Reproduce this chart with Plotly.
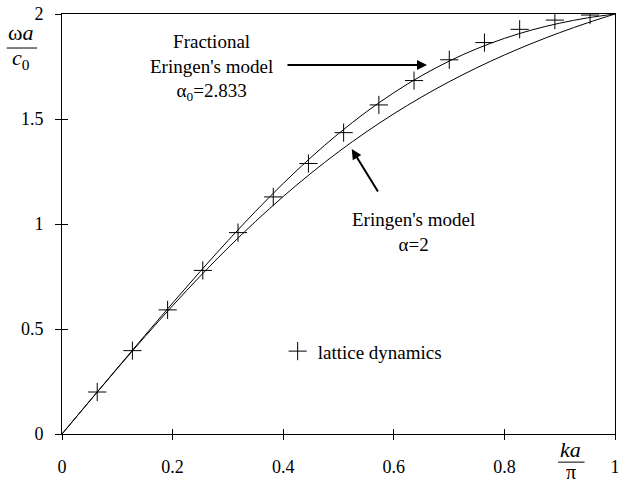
import plotly.graph_objects as go

# ka/pi values
x_curve = [0.0, 0.05, 0.1, 0.15, 0.2, 0.25, 0.3, 0.35, 0.4, 0.45, 0.5,
           0.55, 0.6, 0.65, 0.7, 0.75, 0.8, 0.85, 0.9, 0.95, 1.0]
# Eringen's model, alpha = 2
y_eringen = [0.0, 0.1568, 0.3119, 0.4637, 0.6107, 0.7517, 0.8858, 1.0123,
             1.1309, 1.2413, 1.3436, 1.4380, 1.5248, 1.6044, 1.6773, 1.7439,
             1.8048, 1.8604, 1.9112, 1.9576, 2.0]
# Fractional Eringen's model, alpha0 = 2.833
y_fractional = [0.0, 0.1571, 0.3138, 0.4696, 0.6236, 0.7743, 0.9204, 1.0605,
                1.1930, 1.3167, 1.4304, 1.5334, 1.6252, 1.7058, 1.7755, 1.8346,
                1.8839, 1.9242, 1.9564, 1.9814, 2.0]
# lattice dynamics points
x_lattice = [0.0637, 0.1273, 0.1910, 0.2546, 0.3183, 0.3820, 0.4456, 0.5093,
             0.5730, 0.6366, 0.7003, 0.7639, 0.8276, 0.8913, 0.9549]
y_lattice = [0.200, 0.397, 0.591, 0.779, 0.959, 1.129, 1.288, 1.435,
             1.567, 1.683, 1.782, 1.864, 1.927, 1.971, 1.995]

x_ticks = [0, 0.2, 0.4, 0.6, 0.8, 1]
x_ticktext = ["0", "0.2", "0.4", "0.6", "0.8", "1"]
y_ticks = [0, 0.5, 1, 1.5, 2]
y_ticktext = ["0", "0.5", "1", "1.5", "2"]

FONT = "Liberation Serif, Times New Roman, serif"

fig = go.Figure()
fig.add_trace(go.Scatter(x=x_curve, y=y_eringen, mode="lines", line=dict(color="black", width=1, shape="spline"),
                         showlegend=False, hoverinfo="skip"))
fig.add_trace(go.Scatter(x=x_curve, y=y_fractional, mode="lines", line=dict(color="black", width=1, shape="spline"),
                         showlegend=False, hoverinfo="skip"))
fig.add_trace(go.Scatter(x=x_lattice, y=y_lattice, mode="markers", name="lattice dynamics",
                         marker=dict(symbol="cross-thin", size=13, line=dict(color="black", width=1), color="black"),
                         showlegend=True))

axis_common = dict(showgrid=False, zeroline=False, linecolor="black", linewidth=1, automargin=False,
                   tickcolor="black", tickwidth=1, tickfont=dict(family=FONT, size=18, color="black"))

fig.update_layout(
    width=618, height=484,
    margin=dict(l=62, r=3, t=14, b=50),
    paper_bgcolor="white", plot_bgcolor="white",
    font=dict(family=FONT, size=18, color="black"),
    xaxis=dict(range=[0, 1], tickvals=x_ticks, ticktext=x_ticktext, ticks="outside", ticklen=5,
               showline=True, mirror=True, ticklabelstandoff=11, ticklabeloverflow="allow", **axis_common),
    yaxis=dict(range=[0, 2], tickvals=y_ticks, ticktext=y_ticktext, ticks="outside", ticklen=6,
               showline=True, mirror=True, ticklabelstandoff=8, **axis_common),
    xaxis2=dict(range=[0, 1], overlaying="x", matches="x", side="bottom", tickvals=x_ticks, ticks="inside",
                ticklen=5, showticklabels=False, showline=False, showgrid=False, zeroline=False,
                tickcolor="black", tickwidth=1, automargin=False),
    yaxis2=dict(range=[0, 2], overlaying="y", matches="y", side="left", tickvals=y_ticks, ticks="inside",
                ticklen=6, showticklabels=False, showline=False, showgrid=False, zeroline=False,
                tickcolor="black", tickwidth=1, automargin=False),
    legend=dict(x=0.39, y=0.197, xanchor="left", yanchor="middle", bgcolor="rgba(0,0,0,0)",
                font=dict(family=FONT, size=19, color="black")),
)
# dummy trace to activate overlay axes
fig.add_trace(go.Scatter(x=[None], y=[None], xaxis="x2", yaxis="y2", showlegend=False, hoverinfo="skip"))

ann = []
# text labels
ann.append(dict(x=0.27, y=1.93, xref="x", yref="y", text="Fractional<br>Eringen's model<br>α<sub>0</sub>=2.833",
                showarrow=False, font=dict(family=FONT, size=19), align="center", yanchor="top", xanchor="center"))
ann.append(dict(x=0.635, y=1.08, xref="x", yref="y", text="Eringen's model<br>α=2",
                showarrow=False, font=dict(family=FONT, size=19), align="center", yanchor="top", xanchor="center"))
# arrows
ann.append(dict(x=0.66, y=1.757, ax=0.405, ay=1.757, xref="x", yref="y", axref="x", ayref="y", text="",
                showarrow=True, arrowhead=2, arrowsize=1, arrowwidth=2, arrowcolor="black"))
ann.append(dict(x=0.524, y=1.357, ax=0.573, ay=1.148, xref="x", yref="y", axref="x", ayref="y", text="",
                showarrow=True, arrowhead=2, arrowsize=1, arrowwidth=2, arrowcolor="black"))
# axis label fractions
ann.append(dict(x=-0.075, y=0.955, xref="paper", yref="paper", text="ω<i>a</i>", showarrow=False,
                font=dict(family=FONT, size=22), xanchor="center", yanchor="middle"))
ann.append(dict(x=-0.075, y=0.893, xref="paper", yref="paper", text="<i>c</i><sub>0</sub>", showarrow=False,
                font=dict(family=FONT, size=22), xanchor="center", yanchor="middle"))
ann.append(dict(x=0.92, y=-0.036, xref="paper", yref="paper", text="<i>ka</i>", showarrow=False,
                font=dict(family=FONT, size=22), xanchor="center", yanchor="middle"))
ann.append(dict(x=0.92, y=-0.09, xref="paper", yref="paper", text="π", showarrow=False,
                font=dict(family=FONT, size=20), xanchor="center", yanchor="middle"))
fig.update_layout(annotations=ann)

shapes = [
    dict(type="line", xref="paper", yref="paper", x0=-0.1, x1=-0.045, y0=0.919, y1=0.919,
         line=dict(color="black", width=1)),
    dict(type="line", xref="paper", yref="paper", x0=0.897, x1=0.945, y0=-0.067, y1=-0.067,
         line=dict(color="black", width=1)),
]
fig.update_layout(shapes=shapes)

fig.write_html("out.html")
